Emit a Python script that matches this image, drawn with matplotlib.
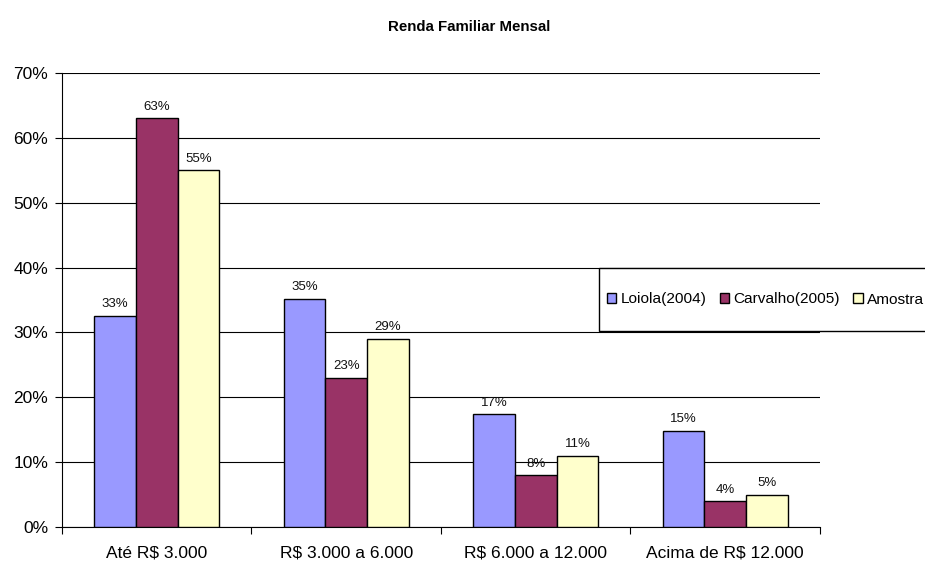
import matplotlib
matplotlib.use("Agg")
import matplotlib.pyplot as plt
from matplotlib.patches import Rectangle
from matplotlib.ticker import FixedLocator, PercentFormatter
import numpy as np

plt.rcParams['font.family'] = ['Liberation Sans', 'DejaVu Sans']

categories = ["Até R$ 3.000", "R$ 3.000 a 6.000", "R$ 6.000 a 12.000", "Acima de R$ 12.000"]
series_names = ["Loiola(2004)", "Carvalho(2005)", "Amostra"]
loiola = [32.6, 35.2, 17.4, 14.8]
carvalho = [63, 23, 8, 4]
amostra = [55, 29, 11, 5]
colors = ["#9999FF", "#993366", "#FFFFCC"]
y_ticks = [0, 10, 20, 30, 40, 50, 60, 70]

W, H = 925, 563
fig = plt.figure(figsize=(W / 100, H / 100), dpi=100)
ax = fig.add_axes([62 / W, 1 - 527 / H, (820 - 62) / W, (527 - 73) / H])

x = np.arange(len(categories))
width = 0.22
offsets = [-width, 0, width]
for vals, name, col, off in zip([loiola, carvalho, amostra], series_names, colors, offsets):
    bars = ax.bar(x + off, vals, width, color=col, edgecolor="black", linewidth=1.0,
                  label=name, zorder=3)
    for b, v in zip(bars, vals):
        ax.annotate(f"{v:.0f}%", (b.get_x() + b.get_width() / 2, v),
                    xytext=(0, 4), textcoords="offset points",
                    ha="center", va="bottom", fontsize=9.5, color="#111111")

ax.set_xlim(-0.5, len(categories) - 0.5)
ax.set_ylim(0, 70)
ax.set_yticks(y_ticks)
ax.yaxis.set_major_formatter(PercentFormatter(decimals=0))
ax.set_xticks(x)
ax.set_xticklabels(categories)
ax.xaxis.set_minor_locator(FixedLocator(np.arange(len(categories) + 1) - 0.5))
ax.tick_params(axis="x", which="major", length=0, pad=13, labelsize=12.5)
ax.tick_params(axis="x", which="minor", length=5, width=0.8, direction="out", color="black")
ax.tick_params(axis="y", length=5, width=0.8, direction="out", pad=5, labelsize=12.5)

ax.grid(axis="y", color="black", linewidth=0.8, zorder=0)
ax.set_axisbelow(True)
for s in ["top", "right"]:
    ax.spines[s].set_visible(False)
for s in ["left", "bottom"]:
    ax.spines[s].set_color("black")
    ax.spines[s].set_linewidth(0.8)

fig.text(469 / W, 1 - 27 / H, "Renda Familiar Mensal", ha="center", va="center",
         fontsize=10.8, fontweight="bold")

# legend box running off the right edge
box = Rectangle((599 / W, 1 - 331 / H), 400 / W, 63 / H, transform=fig.transFigure,
                facecolor="white", edgecolor="black", linewidth=1.0, zorder=4)
fig.add_artist(box)
handles, labels = ax.get_legend_handles_labels()
leg = fig.legend(handles, labels, loc="center left", bbox_to_anchor=(607 / W, 1 - 299.5 / H),
                 ncol=3, frameon=False, fontsize=11.1, handlelength=0.6, handleheight=0.6,
                 handletextpad=0.3, columnspacing=0.85, borderpad=0, borderaxespad=0)
leg.set_zorder(6)
for h in leg.legend_handles:
    h.set_linewidth(1.0)

fig.savefig("out.png", dpi=100)
